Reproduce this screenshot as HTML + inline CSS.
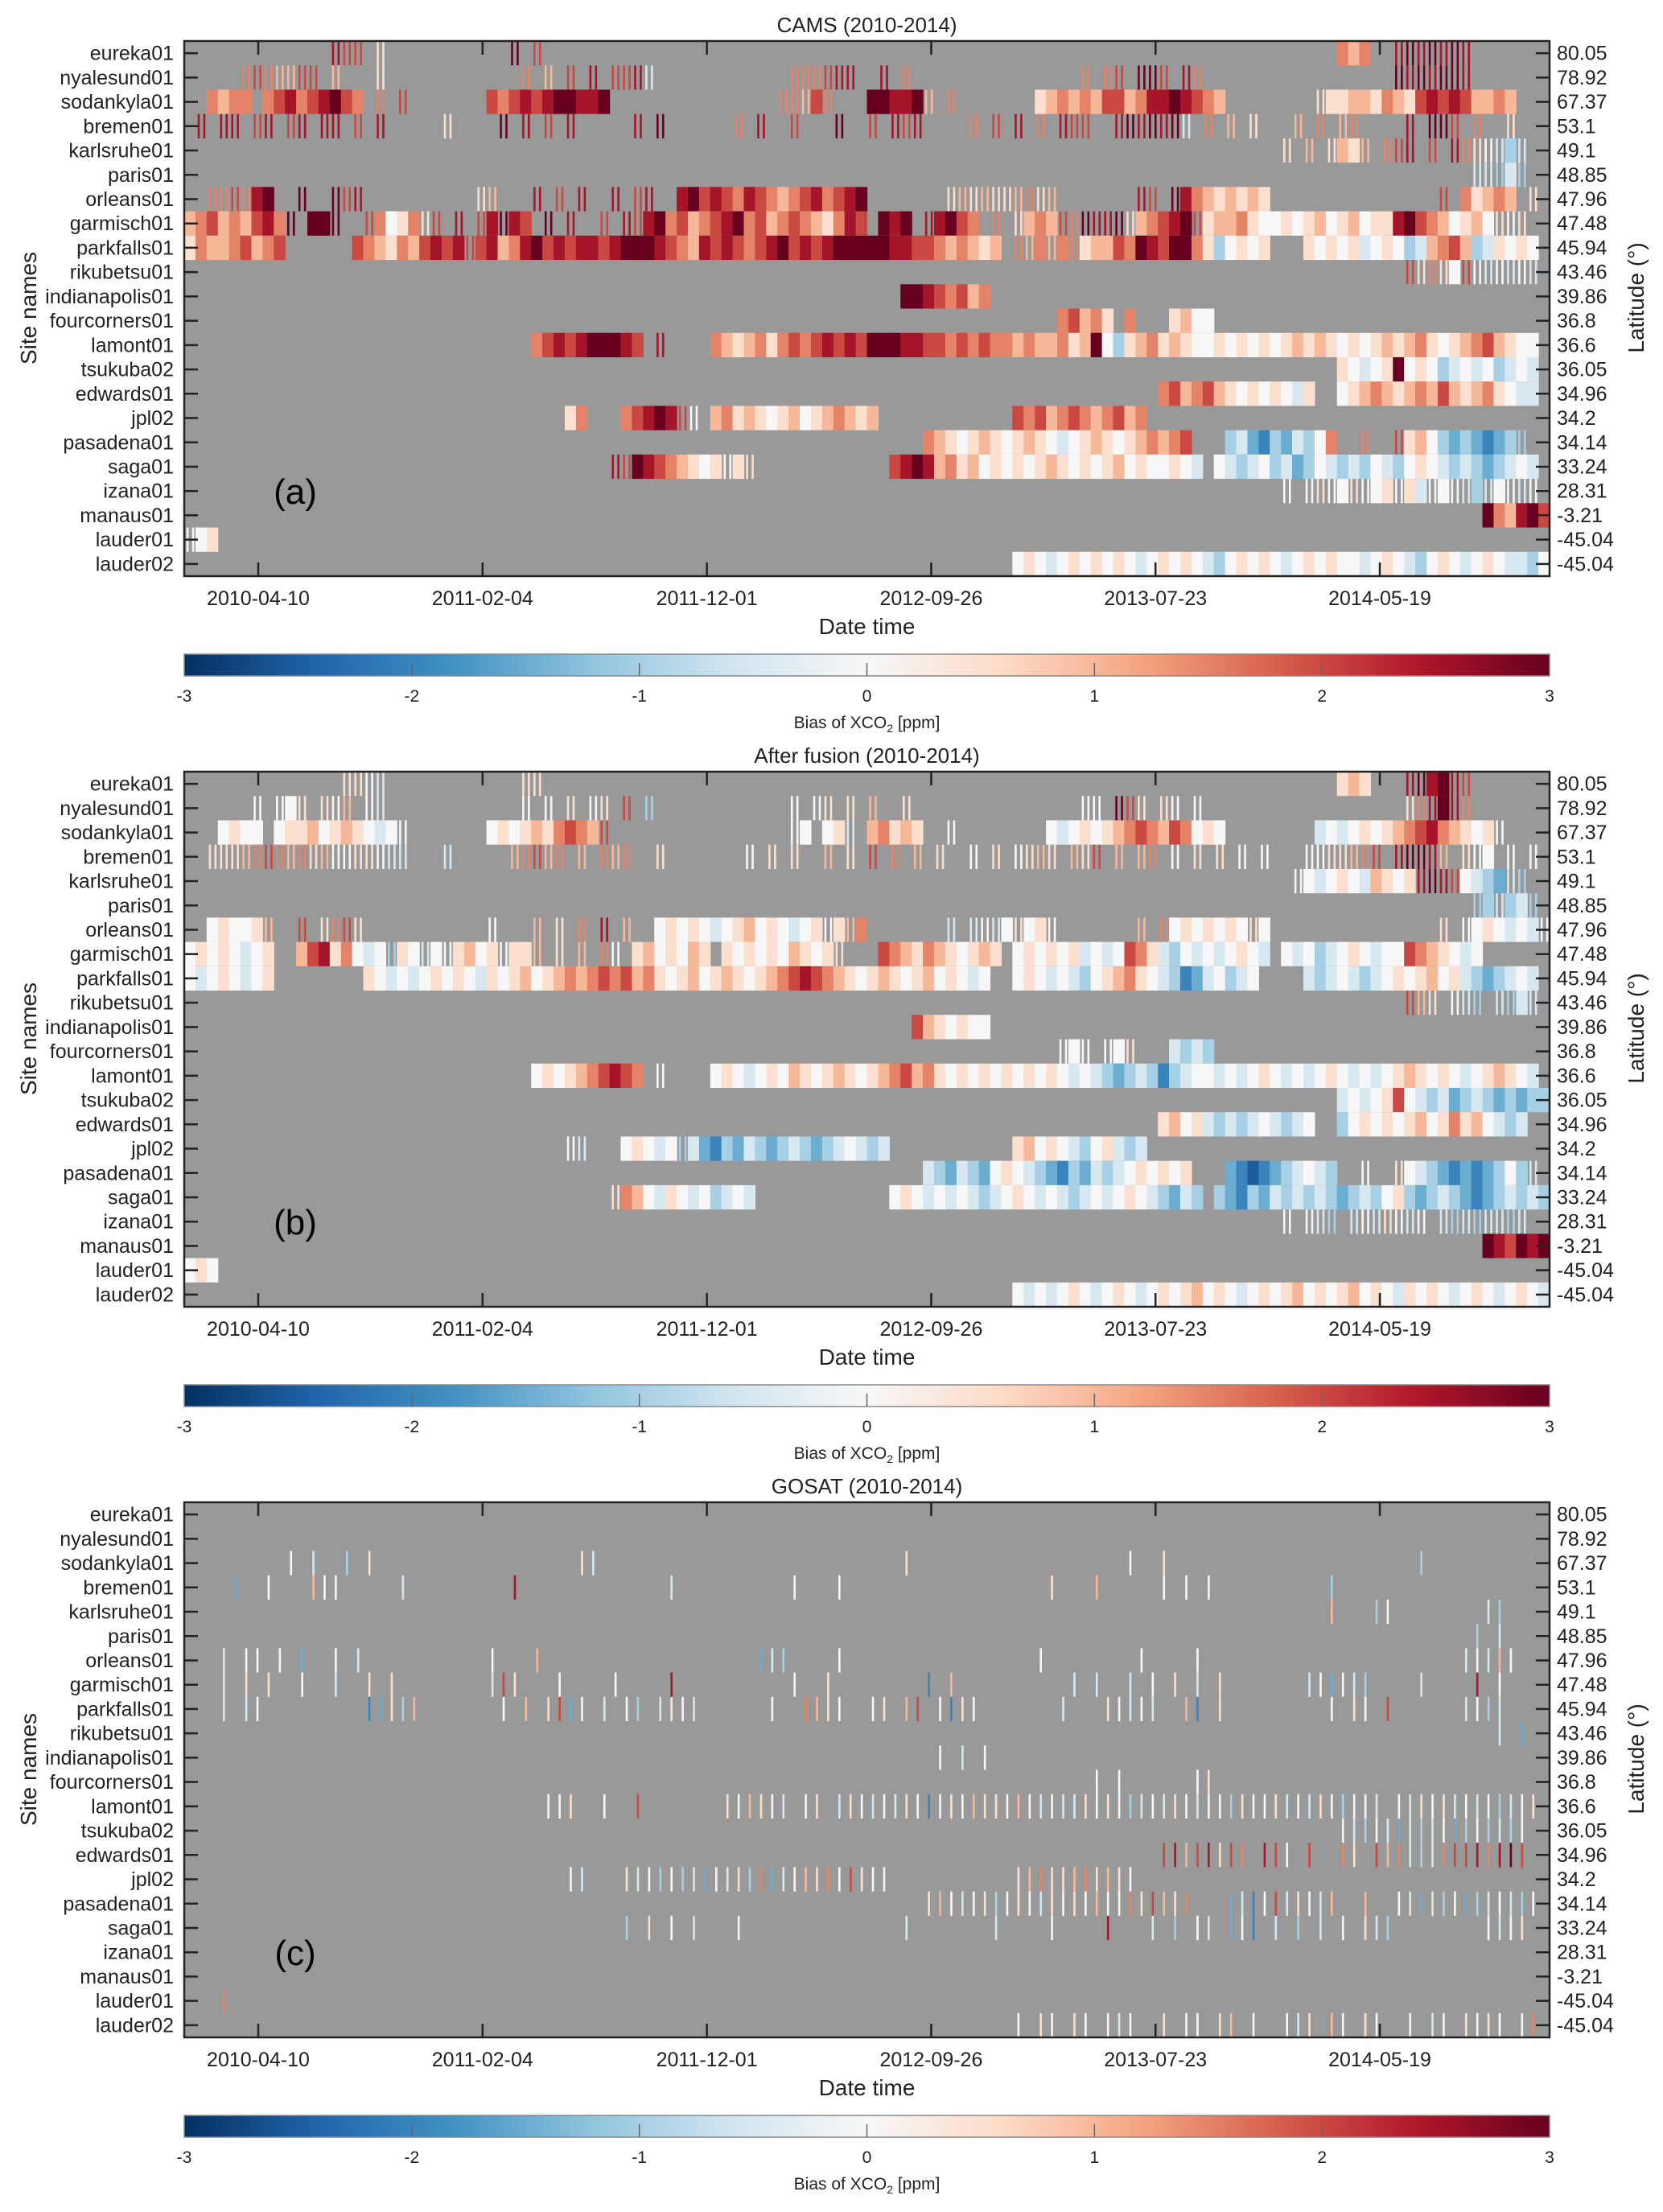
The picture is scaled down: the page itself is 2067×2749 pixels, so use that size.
<!DOCTYPE html>
<html><head><meta charset="utf-8">
<style>
html,body{margin:0;padding:0;background:#fff;}
svg{display:block;}
text{font-family:"Liberation Sans",Arial,sans-serif;fill:#222;}
</style></head>
<body>
<svg id="fig" width="2067" height="2749" viewBox="0 0 2067 2749" xmlns="http://www.w3.org/2000/svg">
<defs>
<linearGradient id="cmap" x1="0" x2="1" y1="0" y2="0">
<stop offset="0" stop-color="#053061"/><stop offset="0.1" stop-color="#2166ac"/><stop offset="0.2" stop-color="#4393c3"/><stop offset="0.3" stop-color="#92c5de"/><stop offset="0.4" stop-color="#d1e5f0"/><stop offset="0.5" stop-color="#f7f7f7"/><stop offset="0.6" stop-color="#fddbc7"/><stop offset="0.7" stop-color="#f4a582"/><stop offset="0.8" stop-color="#d6604d"/><stop offset="0.9" stop-color="#b2182b"/><stop offset="1" stop-color="#67001f"/>
</linearGradient>
</defs>
</svg>
<script>
// ---- data ----
const sites = ["eureka01","nyalesund01","sodankyla01","bremen01","karlsruhe01","paris01","orleans01","garmisch01","parkfalls01","rikubetsu01","indianapolis01","fourcorners01","lamont01","tsukuba02","edwards01","jpl02","pasadena01","saga01","izana01","manaus01","lauder01","lauder02"];
const latitudes = ["80.05","78.92","67.37","53.1","49.1","48.85","47.96","47.48","45.94","43.46","39.86","36.8","36.6","36.05","34.96","34.2","34.14","33.24","28.31","-3.21","-45.04","-45.04"];
const xTickLabels = ["2010-04-10","2011-02-04","2011-12-01","2012-09-26","2013-07-23","2014-05-19"];
const xTickDays = [99,399,699,999,1299,1599];
const cbTicks = [-3,-2,-1,0,1,2,3];
const panelTitles = ["CAMS (2010-2014)","After fusion (2010-2014)","GOSAT (2010-2014)"];
const panelLetters = ["(a)","(b)","(c)"];
// value codes: A=-3 ... G=0 ... M=+3 (0.5 ppm steps); lowercase = sparse obs; '.' = none
const camsRows = [
 [[13,"lkk.h"],[29,"m.k"],[103,"JIJ"],[108,"lmlmlml"]],
 [[5,"jkjiikk.i"],[17,"h"],[30,"j.i.k.l.kkl"],[41,"f"],[54,"jjjkll"],[62,"l.j"],[80,"j.jk.mmk.lj"],[108,"mlmlmml"]],
 [[2,"JIJJ"],[7,"JKLJKLMKJ"],[17,"j.k"],[27,"KJKLKLMMLLM"],[53,"jjiKj"],[61,"MMLLM"],[66,"i.j"],[76,"HIJIJIKKIJLLMLKJI"],[101,"hHHIIHJIHKLKLKIIJI"]],
 [[1,"l.ll.kl.kl.ll.k.l"],[23,"h"],[28,"m.l.k.l"],[40,"l.m."],[49,"j.l..k...m"],[61,"k.lkl."],[70,"j.k.l.j.lkk"],[83,"lmlmlmf"],[91,"j.i.h"],[99,"i.j.ij."],[109,"l.mmk.j"],[118,"h"]],
 [[98,"h.i.hIHi.jkl.k.ljhgfEf"]],
 [[115,"ffeFe"]],
 [[2,"jjkjLM"],[10,"m"],[13,"mkl"],[26,"hi"],[31,"l.k.l..l.kl"],[44,"LMKLKJLKJIJKLJKLM"],[68,"hihihhijhi"],[85,"lk.mLJIHIHIH"],[112,"k"],[114,"JHIJI"],[120,"h"]],
 [[0,"IJKIJIKLJ"],[9,"m.MMm."],[16,"kJGHJh"],[22,"k.l.kLmLK."],[32,"m.l"],[37,"k.lkLMJKIJKLMJKIJKJIHJLK"],[62,"MLM.lLMKJ"],[72,"j"],[74,"hIJIkjmll"],[83,"mhIJKLMkHIIJHG"],[97,"GHGHIGHIGHH"],[108,"LMKJIGHIGhgh"]],
 [[0,"HJIIJKIJK"],[15,"KJIHJIK"],[22,"LKLk"],[26,"KLIJLMKLKL"],[36,"LKLMMMLKJILKLKJKLMKLKLMMM"],[61,"MMLLKKJIJIHI"],[74,"jiJiJj"],[80,"HIIKJMLKMM"],[90,"JHEGHGH"],[100,"HGHGHFGHGEFIJKIEFHGHG"]],
 [[109,"khjhGkgfgfgf"]],
 [[64,"MMLKJKIJ"]],
 [[78,"JKIJH.J"],[88,"HIGG"]],
 [[31,"JKLKLMMMLK"],[42,"l"],[47,"JIHIJHJKJKLKLK"],[61,"MMMLLKKJKJKJJIJIIJ"],[79,"HIMGEHIJHIHG"],[91,"GHGHGHGHIHIHGHGHIHIJHGHIJKIHGG"]],
 [[103,"HGFGHMGHGEFGFGEFGF"]],
 [[87,"JKIJKIHGHGHGFH"],[103,"GHIJIHIJIKIHIJHGFF"]],
 [[34,"HJ"],[39,"JKLMLkg"],[47,"IJHIHGHIGHIJIH"],[61,"I"],[74,"KJKIJKJIJKIJ"]],
 [[66,"JIHGHIHGHIHGFGHIHGHIJIJK"],[93,"EFDCEDFEGJ"],[105,"j"],[108,"kHIGEDEDCDE"],[119,"e"]],
 [[38,"lkMLKJIHGHgHh"],[63,"KLMLIJHIGHGHGHIHGHGHIGHGGHGF"],[92,"GFEFGEFDEGFEFEGFEGHGFEFEDEFGF"]],
 [[98,"g.ghgGhgGHgHFgGgfEfGgfg"]],
 [[116,"MJILMK"]],
 [[0,"gGH"]],
 [[74,"GHGFGHGHGHGFGHGHGFEGHGHGFGHGHGGFGHGFEGHGFGHGFFEG"]]
];
const fusionRows = [
 [[14,"hhgf"],[30,"hh"],[103,"HIH"],[109,"lmLMlk"]],
 [[6,"g.gGh.hgi.gf"],[30,"g.g.h.gh.k.e"],[54,"g.gh.h.i..h"],[80,"gg.mkh.hg.g"],[109,"hjlMlj"]],
 [[3,"GHGG.GHHIGHIHGFGg"],[27,"GHGHIHJKJIk"],[54,"gG.GHf.IJHIH"],[68,"g"],[77,"GFGHGHIJKJIKJGHG"],[101,"FGFGHGHIJKLJIHGHg"]],
 [[2,"hhhijkjijhigghhgff"],[23,"f"],[29,"ijkij.i.jij..h."],[50,"g.h.h..i.h.k.j.i.h"],[70,"g.h.ghih.ihk.i.ij.g.h.h.g.g"],[100,"gghhijk.lmmli.hgG.g.g"]],
 [[99,"gGFGHGFIHGHlmlkGFEDfe"]],
 [[115,"eEfEFe"]],
 [[2,"GHGGHi"],[10,"k.hjkh"],[27,"g"],[31,"i.h.j.l.i."],[42,"GHGHGFGHIGHGFGHgHiJ"],[68,"f.fgfGhGHg"],[85,"i.jGHGHGHGhG"],[112,"h.gGHGFGFg"]],
 [[0,"GHGHGFGH"],[10,"IKLHJGFGeHGfGgHIGHgHHi"],[33,"h.i.jg.HIGHGIH"],[48,"HGHGHGIHGHh"],[62,"KJIHJIHGHIH"],[74,"GHGHGHFGFG"],[84,"KJHFEGFGFGHGF"],[98,"GFGEFGHGFGG"],[109,"KJIHGFG"]],
 [[0,"GFGHGFGH"],[16,"HGFGFGHGHGFHGHIGHIJIJKJKIJHGHIGHIHGHIJKLKJIHGHIHGHIGHGFG"],[74,"GHGFGFEGHIJHGFECDFGEFG"],[100,"FEFGFEFGHGHIGHFEDEFGF"]],
 [[109,"kih.gfe.feFf"]],
 [[65,"KIHGHGG"]],
 [[78,"gGg.gGh"],[88,"FEFE"]],
 [[31,"GHGHIJKLKJ"],[42,"g"],[47,"GHGFGHGIHGHIHGHIJKIJHGHGHGHGHGHGFGFEDEFECEFG"],[91,"GFGFGHGFGFGHGFGFGHIHGHGFGHIHGF"]],
 [[103,"FGFGHKGFEFDEFEDEDEE"]],
 [[87,"HIGHFEFEFGFEFG"],[103,"EGHGHGHIGHJHIGFEF"]],
 [[34,"gf"],[39,"GHGFGeFDCEDFEDEFEDEFGFEF"],[74,"HIGHGFEGHFEF"]],
 [[66,"FEDFEDGHGFEDCEDFEFGHGHGH"],[93,"DCBCDEFGFE"],[105,"g"],[108,"hGFEDCDCDEGE"],[120,"f"]],
 [[38,"hJIGFHGFGEFGF"],[63,"GHGFGFGFEFGHGFGFEFGFGHGFEDFE"],[92,"EDCEDFEFEFEDEFEGHEDEFEDCDEFEFE"]],
 [[98,"g.gfe.fgfhgfg.fefeffef"]],
 [[116,"MLKMLM"]],
 [[0,"GHG"]],
 [[74,"GFGFGHGFGHGFGHGHIGHGFGHGHIGHGHIGHGFHGHGFGHGFGHGF"]]
];
const gosatRows = [
 [],
 [],
 [[9,"g.f..e.h"],[35,"hf"],[64,"h"],[84,"g..h"],[110,"e"]],
 [[4,"d"],[7,"g"],[11,"igg"],[19,"f"],[29,"l"],[43,"f"],[54,"g"],[58,"g"],[77,"h"],[81,"i"],[87,"g.g.g"],[102,"e"]],
 [[102,"i"],[106,"eg"],[116,"fe"]],
 [[115,"e.f"]],
 [[3,"f.gg.g"],[10,"d"],[13,"g.f"],[27,"g"],[31,"i"],[51,"dfe"],[58,"g"],[76,"g"],[85,"g"],[90,"g"],[114,"fgfig"]],
 [[3,"f.h.h"],[10,"g..f"],[16,"h.h"],[27,"fkh"],[33,"g"],[38,"g"],[43,"l"],[54,"g"],[57,"h"],[66,"c.i"],[79,"f.f..f.g.h.f.h"],[100,"fgdgfe"],[110,"f"],[115,"l.g"]],
 [[3,"f.fg"],[16,"cdhei"],[28,"g.i.hkdg.f.ge.fhgf"],[52,"g"],[55,"jihg"],[61,"gh.ik.gchg"],[78,"f"],[82,"hgfgf"],[89,"ic.h"],[102,"g.hg.k"],[114,"fgef"]],
 [[117,"f.d"]],
 [[67,"g.f.g"]],
 [[81,"g.g"],[90,"gh"]],
 [[32,"ggh"],[37,"g..k"],[48,"hgihgf.gh.fhgfgfhgcghgihhgigfgffhghgefgfhgfggehgghfgfhgeggf.gfhghfgfgefgh"]],
 [[103,"gfegfdfefgdegefeg"]],
 [[87,"kliklhkj.lkg.k"],[103,"jh.kijfefjkkljlmk"]],
 [[34,"gf"],[39,"hfgegefdgfhejdfgihjgkhgg"],[74,"hijhhijhihg"]],
 [[66,"higfgheghgfhghgiggjhkihj"],[93,"dfcgkfhgfi"],[105,"i"],[108,"gfdfegdefgfeg"]],
 [[39,"e.h.g.f...g"],[64,"f"],[72,"f"],[77,"g"],[82,"l"],[86,"f.e.gf"],[93,"dgc.f.e.f.g.hfe"],[116,"gfgh"]],
 [],
 [],
 [[3,"j"]],
 [[74,"g.hg.hg.gfg..h.gg.hi.g..gfh.ig.hg..g.fg.hghg.gj"]]
];

// ---- layout ----
const NS = "http://www.w3.org/2000/svg";
const svg = document.getElementById("fig");
const X0 = 229, X1 = 1926, Y0 = 51, Y1 = 716, PANEL_DY = 908;
const TOTAL_DAYS = 1826, NBINS = 122;
const BIN_DAYS = TOTAL_DAYS / NBINS;
const xOfDay = d => X0 + d / TOTAL_DAYS * (X1 - X0);
const rowH = (Y1 - Y0) / sites.length;
const stops = [[-3,[5,48,97]],[-2.4,[33,102,172]],[-1.8,[67,147,195]],[-1.2,[146,197,222]],[-0.6,[209,229,240]],[0,[247,247,247]],[0.6,[253,219,199]],[1.2,[244,165,130]],[1.8,[214,96,77]],[2.4,[178,24,43]],[3,[103,0,31]]];
function colorOf(v){
  v = Math.max(-3, Math.min(3, v));
  for (let i = 0; i < stops.length - 1; i++){
    const [a, ca] = stops[i], [b, cb] = stops[i+1];
    if (v <= b){
      const t = (v - a) / (b - a);
      const c = ca.map((x, k) => Math.round(x + (cb[k] - x) * t));
      return "rgb(" + c.join(",") + ")";
    }
  }
  return "rgb(103,0,31)";
}
function codeVal(ch){ return (ch.toUpperCase().charCodeAt(0) - 71) * 0.5; }
function mk(tag, attrs, parent){
  const e = document.createElementNS(NS, tag);
  for (const k in attrs) e.setAttribute(k, attrs[k]);
  (parent || svg).appendChild(e);
  return e;
}
function txt(s, attrs, parent){ const t = mk("text", attrs, parent); t.textContent = s; return t; }

const panels = [camsRows, fusionRows, gosatRows];
const panelNames = ["cams","fusion","gosat"];
panels.forEach((rows, p) => {
  const oy = p * PANEL_DY;
  const g = mk("g", {});
  
  
  const title = txt(panelTitles[p], {x: (X0+X1)/2, y: 40 + oy, "font-size": 26, "text-anchor": "middle"}, g);
  
  
  const bg = mk("rect", {x: X0, y: Y0+oy, width: X1-X0, height: Y1-Y0, fill: "#999999"}, g);
  
  
  const thinCount = p === 2 ? 1 : 2;
  const bw = (X1 - X0) / NBINS;
  rows.forEach((segs, r) => {
    const yTop = Y0 + oy + r * rowH;
    segs.forEach(([start, codes]) => {
      for (let i = 0; i < codes.length; i++){
        const ch = codes[i];
        if (ch === ".") continue;
        const day = (start + i) * BIN_DAYS;
        const x = xOfDay(day);
        const col = colorOf(codeVal(ch));
        if (ch === ch.toUpperCase()){
          const c = mk("rect", {x: x.toFixed(2), y: yTop.toFixed(2), width: (bw+0.6).toFixed(2), height: rowH.toFixed(2), fill: col}, g);
          
          
        } else {
          for (let k = 0; k < thinCount; k++){
            const lx = x + bw * (thinCount === 1 ? 0.45 : (0.2 + 0.5 * k));
            const c = mk("rect", {x: lx.toFixed(2), y: yTop.toFixed(2), width: 2.6, height: rowH.toFixed(2), fill: col}, g);
            
            
          }
        }
      }
    });
  });
  const fr = mk("rect", {x: X0, y: Y0+oy, width: X1-X0, height: Y1-Y0, fill: "none", stroke: "#222", "stroke-width": 2.5}, g);
  
  
  sites.forEach((s, r) => {
    const yc = Y0 + oy + (r + 0.5) * rowH;
    mk("line", {x1: X0, x2: X0+17, y1: yc, y2: yc, stroke: "#222", "stroke-width": 2.5}, g);
    mk("line", {x1: X1-17, x2: X1, y1: yc, y2: yc, stroke: "#222", "stroke-width": 2.5}, g);
    const l = txt(s, {x: 216, y: yc + 8.5, "font-size": 25, "text-anchor": "end"}, g);
    
    
    const rl = txt(latitudes[r], {x: 1935, y: yc + 8.5, "font-size": 25}, g);
    
    
  });
  xTickDays.forEach((d, i) => {
    const x = xOfDay(d);
    mk("line", {x1: x, x2: x, y1: Y0+oy, y2: Y0+oy+17, stroke: "#222", "stroke-width": 2.5}, g);
    mk("line", {x1: x, x2: x, y1: Y1+oy-17, y2: Y1+oy, stroke: "#222", "stroke-width": 2.5}, g);
    const l = txt(xTickLabels[i], {x: x, y: Y1 + oy + 36, "font-size": 25, "text-anchor": "middle"}, g);
    
    
  });
  const xt = txt("Date time", {x: (X0+X1)/2, y: 788 + oy, "font-size": 28, "text-anchor": "middle"}, g);
  
  
  const yt = txt("Site names", {x: 0, y: 0, "font-size": 28, "text-anchor": "middle", transform: "translate(45," + (383+oy) + ") rotate(-90)"}, g);
  
  
  const rt = txt("Latitude (°)", {x: 0, y: 0, "font-size": 28, "text-anchor": "middle", transform: "translate(2043," + (370+oy) + ") rotate(-90)"}, g);
  
  
  const pl = txt(panelLetters[p], {x: 367, y: 626 + oy, "font-size": 44, "text-anchor": "middle", style: "fill:#000"}, g);
  
  
  const cb = mk("rect", {x: X0, y: 813+oy, width: X1-X0, height: 27, fill: "url(#cmap)", stroke: "#888", "stroke-width": 1.5}, g);
  
  
  cbTicks.forEach(v => {
    const x = X0 + (v + 3) / 6 * (X1 - X0);
    if (v > -3 && v < 3) mk("line", {x1: x, x2: x, y1: 824+oy, y2: 840+oy, stroke: "#666", "stroke-width": 1.5}, g);
    const l = txt(String(v), {x: x, y: 872 + oy, "font-size": 21, "text-anchor": "middle"}, g);
    
    
  });
  const cl = mk("text", {x: (X0+X1)/2, y: 905 + oy, "font-size": 21, "text-anchor": "middle"}, g);
  cl.innerHTML = 'Bias of XCO<tspan font-size="14" dy="5">2</tspan><tspan dy="-5"> [ppm]</tspan>';
  
  
});
</script>
</body></html>
